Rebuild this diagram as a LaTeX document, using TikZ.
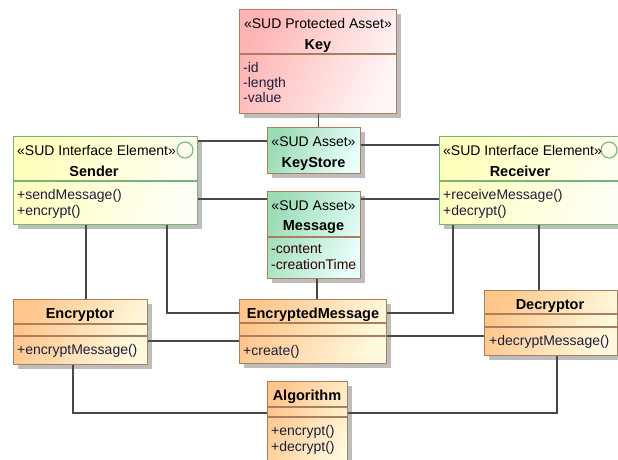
\documentclass[tikz,border=0pt]{standalone}
\usepackage{fontspec}
\setmainfont{Liberation Sans}
\usetikzlibrary{shadows,calc}
\definecolor{keyA}{HTML}{FFB4B4}
\definecolor{keyB}{HTML}{FFF6F6}
\definecolor{ifA}{HTML}{FFFFBC}
\definecolor{ifB}{HTML}{FFFFF6}
\definecolor{asA}{HTML}{9CDCB4}
\definecolor{asB}{HTML}{E8FFFC}
\definecolor{clA}{HTML}{FFC68C}
\definecolor{clB}{HTML}{FFFADE}
\definecolor{brownb}{HTML}{A88060}
\definecolor{greenb}{HTML}{78B478}
\definecolor{shadowgray}{HTML}{BDBDBD}
\definecolor{linec}{HTML}{484848}
\definecolor{navy}{HTML}{1E1E3C}
\newcommand\sepline[3]{\draw[draw=#3, line width=1.2pt] ($(#1.north west)+(0,#2)$) -- ($(#1.north east)+(0,#2)$);}
\begin{document}
\begin{tikzpicture}[x=1pt,y=-1pt,
  box/.style={rectangle, inner sep=0, anchor=north west, line width=1.3pt,
    drop shadow={shadow xshift=4pt, shadow yshift=-4pt, fill=shadowgray, opacity=1}},
  keybox/.style={box, draw=brownb, top color=keyA, bottom color=keyB, shading angle=65},
  ifbox/.style={box, draw=greenb, top color=ifA, bottom color=ifB, shading angle=65},
  asbox/.style={box, draw=brownb, top color=asA, bottom color=asB, shading angle=65},
  clbox/.style={box, draw=brownb, top color=clA, bottom color=clB, shading angle=65},
  conn/.style={draw=linec, line width=1.2pt},
  txt/.style={inner sep=0, anchor=base west, font=\fontsize{14}{16}\selectfont, text=navy},
  ctxt/.style={inner sep=0, anchor=base, font=\fontsize{14}{16}\selectfont, text=black},
  btxt/.style={inner sep=0, anchor=base, font=\fontsize{14.5}{16}\selectfont\bfseries, text=black},
  ifcirc/.style={circle, draw=greenb, line width=1.1pt, minimum size=16pt, inner sep=0, fill=none}
]
\useasboundingbox (0,0) rectangle (618,460);
\clip (0,0) rectangle (618,460);
\fill[white] (0,0) rectangle (618,460);

% boxes
\node[keybox, minimum width=157, minimum height=104] (key) at (239,9) {};
\node[ifbox, minimum width=184, minimum height=88] (sender) at (13,136) {};
\node[ifbox, minimum width=192, minimum height=88] (receiver) at (439,136) {};
\node[asbox, minimum width=93, minimum height=46] (ks) at (267,127) {};
\node[asbox, minimum width=93, minimum height=87] (msg) at (267,191) {};
\node[clbox, minimum width=134, minimum height=65] (enc) at (13,299) {};
\node[clbox, minimum width=147, minimum height=64] (encm) at (239,299) {};
\node[clbox, minimum width=133, minimum height=65] (dec) at (484,290) {};
\node[clbox, minimum width=80, minimum height=95] (alg) at (267,381) {};

% compartments
\sepline{key}{45}{brownb}
\sepline{sender}{45}{greenb}
\sepline{receiver}{45}{greenb}
\sepline{msg}{46}{brownb}
\sepline{enc}{25}{brownb}
\sepline{enc}{37}{brownb}
\sepline{encm}{24}{brownb}
\sepline{encm}{37}{brownb}
\sepline{dec}{24}{brownb}
\sepline{dec}{37}{brownb}
\sepline{alg}{26}{brownb}
\sepline{alg}{36}{brownb}

% interface circles
\node[ifcirc] (sc) at (185,150) {};
\node[ifcirc] (rc) at (609,150) {};

% texts
\node[ctxt] (kst) at (318,29) {«SUD Protected Asset»};
\node[btxt] (kn) at (318,49) {Key};
\node[txt] (ka1) at (243,72) {-id};
\node[txt] (ka2) at (243,87) {-length};
\node[txt] (ka3) at (243,102) {-value};

\node[txt, text=black] (sst) at (17,155) {«SUD Interface Element»};
\node[btxt] (sn) at (94,176) {Sender};
\node[txt] (sm1) at (17,199) {+sendMessage()};
\node[txt] (sm2) at (17,215) {+encrypt()};

\node[txt, text=black] (rst) at (443,155) {«SUD Interface Element»};
\node[btxt] (rn) at (520,176) {Receiver};
\node[txt] (rm1) at (443,199) {+receiveMessage()};
\node[txt] (rm2) at (443,215) {+decrypt()};

\node[ctxt] (kss) at (313.5,146) {«SUD Asset»};
\node[btxt] (ksn) at (313.5,167) {KeyStore};

\node[ctxt] (mst) at (313.5,210) {«SUD Asset»};
\node[btxt] (mn) at (313.5,230) {Message};
\node[txt, text=black!70!red!60!black] (ma1) at (271,253) {-content};
\node[txt, text=black!70!red!60!black] (ma2) at (271,269) {-creationTime};

\node[btxt] (en) at (80,318) {Encryptor};
\node[txt] (em) at (17,354) {+encryptMessage()};

\node[btxt] (emn) at (313,318) {EncryptedMessage};
\node[txt] (emm) at (243,355) {+create()};

\node[btxt] (dn) at (550,309) {Decryptor};
\node[txt] (dm) at (489,345) {+decryptMessage()};

\node[btxt] (an) at (307,400) {Algorithm};
\node[txt] (am1) at (271,435) {+encrypt()};
\node[txt] (am2) at (271,451) {+decrypt()};

% connectors
\draw[conn] (key.south) -- (key.south |- ks.north);
\draw[conn] ($(sender.north east)+(0,5)$) -- ($(ks.north west)+(0,14)$);
\draw[conn] ($(ks.north east)+(0,18)$) -- ($(receiver.north west)+(0,9)$);
\draw[conn] ($(sender.north east)+(0,63)$) -- ($(msg.north west)+(0,8)$);
\draw[conn] ($(msg.north east)+(0,8)$) -- ($(receiver.north west)+(0,63)$);
\draw[conn] ($(msg.south west)+(50,0)$) -- ($(encm.north west)+(78,0)$);
\draw[conn] ($(sender.south west)+(73,0)$) -- ($(enc.north west)+(73,0)$);
\draw[conn] ($(sender.south west)+(154,0)$) |- ($(encm.north west)+(0,14)$);
\draw[conn] ($(enc.north east)+(0,42)$) -- ($(encm.north west)+(0,42)$);
\draw[conn] ($(encm.north east)+(0,14)$) -| ($(receiver.south west)+(14,0)$);
\draw[conn] ($(encm.north east)+(0,37)$) -- ($(dec.north west)+(0,46)$);
\draw[conn] ($(receiver.south west)+(100,0)$) -- ($(dec.north west)+(55,0)$);
\draw[conn] ($(enc.south west)+(60,0)$) |- ($(alg.north west)+(0,32)$);
\draw[conn] ($(dec.south west)+(73,0)$) |- ($(alg.north east)+(0,32)$);
\end{tikzpicture}
\end{document}
